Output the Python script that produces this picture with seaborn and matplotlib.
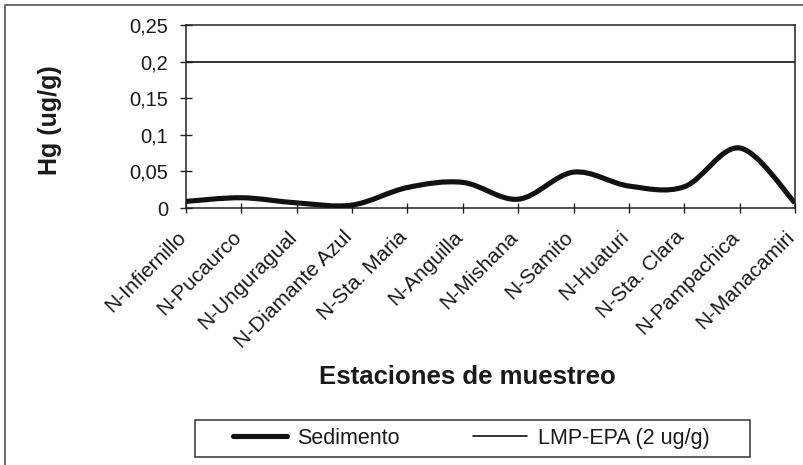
import numpy as np
import matplotlib
matplotlib.use("Agg")
import matplotlib.pyplot as plt
import seaborn as sns
from matplotlib.path import Path
from matplotlib.patches import PathPatch, Rectangle
from matplotlib.lines import Line2D
from matplotlib.transforms import ScaledTranslation

# Sampling stations and mercury in sediment (ug/g)
estaciones = [
    "N-Infiernillo", "N-Pucaurco", "N-Unguragual", "N-Diamante Azul",
    "N-Sta. Maria", "N-Anguilla", "N-Mishana", "N-Samito",
    "N-Huaturi", "N-Sta. Clara", "N-Pampachica", "N-Manacamiri",
]
sedimento = [0.009, 0.014, 0.007, 0.004, 0.028, 0.035,
             0.012, 0.049, 0.030, 0.029, 0.082, 0.007]
lmp_epa = 0.2

y_ticks = [0, 0.05, 0.1, 0.15, 0.2, 0.25]
y_tick_labels = ["0", "0,05", "0,1", "0,15", "0,2", "0,25"]

sns.set_theme(style="white")
plt.rcParams["font.family"] = ["Liberation Sans", "DejaVu Sans"]

W, H = 804, 465
fig = plt.figure(figsize=(W / 100, H / 100), dpi=100)
fig.patch.set_facecolor("white")


def fx(px):
    return px / W


def fy(py):
    return 1 - py / H


ax = fig.add_axes([fx(186), fy(208), fx(795) - fx(186), fy(25) - fy(208)])
ax.set_facecolor("white")

pos = np.arange(len(estaciones))
sns.lineplot(x=pos, y=[lmp_epa] * len(pos), ax=ax, color="#111111",
             linewidth=1.2, legend=False)


def smooth_path(xs, ys):
    """Cubic Bezier through every point, spreadsheet-style smoothing."""
    n = len(xs)
    verts = [(xs[0], ys[0])]
    codes = [Path.MOVETO]
    for i in range(n - 1):
        p0 = (xs[i - 1], ys[i - 1]) if i > 0 else (xs[i], ys[i])
        p1 = (xs[i], ys[i])
        p2 = (xs[i + 1], ys[i + 1])
        p3 = (xs[i + 2], ys[i + 2]) if i + 2 < n else p2
        c1 = (p1[0] + (p2[0] - p0[0]) / 6, p1[1] + (p2[1] - p0[1]) / 6)
        c2 = (p2[0] - (p3[0] - p1[0]) / 6, p2[1] - (p3[1] - p1[1]) / 6)
        verts += [c1, c2, p2]
        codes += [Path.CURVE4] * 3
    return Path(verts, codes)


ax.add_patch(PathPatch(smooth_path(pos, sedimento), fill=False,
                       edgecolor="#111111", linewidth=3.7,
                       capstyle="butt", joinstyle="round", zorder=3))

ax.set_xlim(0, len(estaciones) - 1)
ax.set_ylim(0, 0.25)
ax.set_yticks(y_ticks)
ax.set_yticklabels(y_tick_labels)
ax.set_xticks(pos)
ax.set_xticklabels(estaciones)
ax.set_xlabel("")
ax.set_ylabel("")

for s in ax.spines.values():
    s.set_visible(True)
    s.set_color("#222222")
    s.set_linewidth(1.1)

ax.tick_params(axis="y", direction="inout", length=8, width=1.0,
               color="#222222", pad=9, labelsize=14.5, labelcolor="#1a1a1a",
               left=True)
ax.tick_params(axis="x", direction="inout", length=7, width=1.0,
               color="#222222", pad=4, labelsize=15, labelcolor="#1a1a1a",
               bottom=True)

offset = ScaledTranslation(-10 / 100, -9 / 100, fig.dpi_scale_trans)
for lab in ax.get_xticklabels():
    lab.set_rotation(45)
    lab.set_ha("right")
    lab.set_va("top")
    lab.set_rotation_mode("anchor")
    lab.set_transform(lab.get_transform() + offset)

fig.text(fx(50), fy(120), "Hg (ug/g)", rotation=90, ha="center",
         va="center", fontsize=18, fontweight="bold", color="#1a1a1a")
fig.text(fx(467), fy(377), "Estaciones de muestreo", ha="center",
         va="center", fontsize=18.5, fontweight="bold", color="#1a1a1a")

# legend box and entries
fig.add_artist(Rectangle((fx(195), fy(457)), fx(750) - fx(195),
                         fy(420) - fy(457), transform=fig.transFigure,
                         fill=False, edgecolor="#333333", linewidth=1.1))
handles = [Line2D([], [], color="#111111", linewidth=3.7),
           Line2D([], [], color="#111111", linewidth=1.2)]
fig.legend(handles, ["Sedimento", "LMP-EPA (2 ug/g)"], loc="center",
           bbox_to_anchor=(fx(471), fy(438.5)), ncol=2, frameon=False,
           fontsize=15.5, handlelength=2.5, handletextpad=0.5,
           columnspacing=3.4, labelcolor="#1a1a1a")

# outer chart border
fig.add_artist(Rectangle((fx(5), -0.1), 1.2, fy(5) + 0.1,
                         transform=fig.transFigure, fill=False,
                         edgecolor="#555555", linewidth=1.2))

fig.savefig("out.png", dpi=100, facecolor="white")
